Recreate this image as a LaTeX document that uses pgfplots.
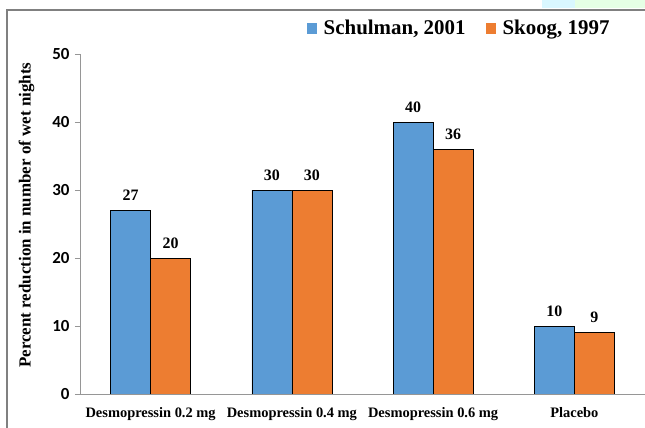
\documentclass[border=0pt]{standalone}
\usepackage{pgfplots}
\pgfplotsset{compat=1.18}
\usepackage{fontspec}
\setmainfont{Liberation Serif}
\newfontfamily\tickfont{Carlito}
\definecolor{cblue}{RGB}{91,155,213}
\definecolor{corange}{RGB}{237,125,49}
\definecolor{framegray}{RGB}{128,128,128}
\definecolor{axgray}{RGB}{150,150,150}
\begin{document}
\begin{tikzpicture}
\useasboundingbox (-80bp,-34bp) rectangle (565bp,394bp);
% decoration strip and frame
\fill[blue!20!cyan!15!white] (462bp,386bp) rectangle (495bp,394bp);
\fill[green!10!white] (495bp,386bp) rectangle (565bp,394bp);
\draw[framegray, line width=1.4bp] (-73bp,-34bp) -- (-73bp,384bp) -- (565bp,384bp);
\begin{axis}[
  at={(0,0)}, anchor=south west,
  scale only axis,
  width=565bp, height=340bp,
  xmin=-0.5, xmax=3.5,
  ymin=0, ymax=50,
  ybar=0pt, bar width=40bp,
  axis x line=bottom, axis y line=left,
  axis line style={-, axgray, line width=0.8bp},
  xtick={0,1,2,3},
  xticklabels={Desmopressin 0.2 mg, Desmopressin 0.4 mg, Desmopressin 0.6 mg, Placebo},
  x tick style={draw=none},
  xticklabel style={font=\bfseries\fontsize{14.5}{14.5}\selectfont, yshift=-5bp},
  ytick={0,10,20,30,40,50},
  y tick style={axgray, line width=0.8bp},
  tick align=outside,
  major tick length=5bp,
  yticklabel style={font=\tickfont\bfseries\fontsize{17}{17}\selectfont, xshift=-2bp},
  /pgf/number format/assume math mode=true,
  ylabel={Percent reduction in number of wet nights},
  every axis y label/.style={at={(axis description cs:-0.0947,0.526)}, rotate=90, anchor=center, font=\bfseries\fontsize{17}{17}\selectfont},
  nodes near coords,
  every node near coord/.append style={font=\bfseries\fontsize{16}{16}\selectfont, yshift=6bp, black},
  legend columns=2,
  legend style={draw=none, fill=none, at={(axis description cs:0.671,1.076)}, anchor=center,
    font=\bfseries\fontsize{21}{21}\selectfont,
    /tikz/every odd column/.append style={column sep=5bp},
    /tikz/every even column/.append style={column sep=18bp},
    inner sep=0pt},
  legend image code/.code={\fill[#1, draw=none] (0bp,-5.5bp) rectangle (10bp,5.5bp);},
]
\addplot[fill=cblue, draw=black, line width=0.7bp] coordinates {(0,27) (1,30) (2,40) (3,10)};
\addplot[fill=corange, draw=black, line width=0.7bp] coordinates {(0,20) (1,30) (2,36) (3,9)};
\legend{{Schulman, 2001}, {Skoog, 1997}}
\end{axis}
\end{tikzpicture}
\end{document}
